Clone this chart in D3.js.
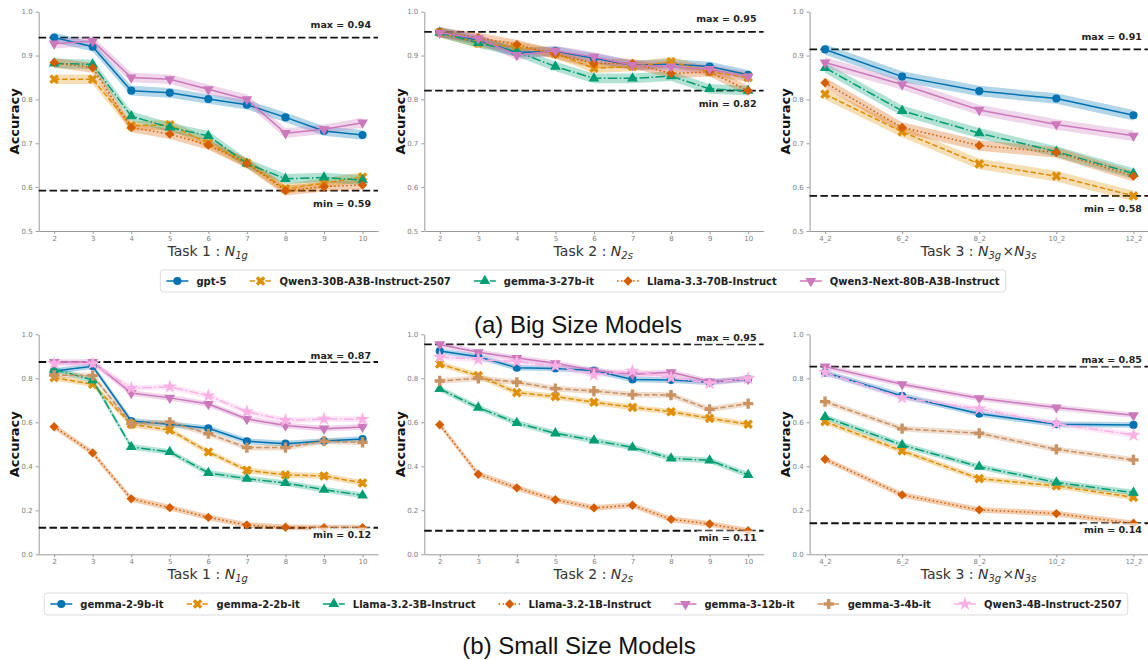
<!DOCTYPE html>
<html>
<head>
<meta charset="utf-8">
<script src="https://cdn.jsdelivr.net/npm/d3@7"></script>
<style>
  body { margin: 0; background: #fff; }
  svg { display: block; }
</style>
</head>
<body>
<div id="chart"></div>
<script>

// x categories
const xTask12 = [2, 3, 4, 5, 6, 7, 8, 9, 10];
const xTask3 = ["4_2", "6_2", "8_2", "10_2", "12_2"];

// model names (legend order)
const bigModels = ["gpt-5", "Qwen3-30B-A3B-Instruct-2507", "gemma-3-27b-it",
  "Llama-3.3-70B-Instruct", "Qwen3-Next-80B-A3B-Instruct"];
const smallModels = ["gemma-2-9b-it", "gemma-2-2b-it", "Llama-3.2-3B-Instruct",
  "Llama-3.2-1B-Instruct", "gemma-3-12b-it", "gemma-3-4b-it", "Qwen3-4B-Instruct-2507"];

// accuracies, one row per model (same order as the names above)
const bigTask1 = [
  [0.941, 0.920, 0.820, 0.815, 0.801, 0.788, 0.759, 0.728, 0.719],
  [0.846, 0.846, 0.740, 0.742, 0.700, 0.655, 0.596, 0.609, 0.623],
  [0.882, 0.880, 0.762, 0.736, 0.717, 0.654, 0.619, 0.622, 0.616],
  [0.884, 0.872, 0.736, 0.721, 0.696, 0.654, 0.592, 0.601, 0.605],
  [0.927, 0.933, 0.850, 0.846, 0.823, 0.800, 0.723, 0.732, 0.747]
];
const bigTask2 = [
  [0.954, 0.935, 0.907, 0.910, 0.894, 0.878, 0.881, 0.875, 0.856],
  [0.953, 0.928, 0.920, 0.905, 0.871, 0.875, 0.886, 0.863, 0.850],
  [0.952, 0.929, 0.909, 0.875, 0.848, 0.848, 0.853, 0.824, 0.820],
  [0.953, 0.941, 0.925, 0.903, 0.882, 0.882, 0.859, 0.863, 0.820],
  [0.952, 0.939, 0.901, 0.911, 0.897, 0.878, 0.875, 0.869, 0.852]
];
const bigTask3 = [
  [0.914, 0.852, 0.819, 0.802, 0.764],
  [0.812, 0.726, 0.653, 0.625, 0.580],
  [0.872, 0.774, 0.723, 0.681, 0.631],
  [0.838, 0.736, 0.695, 0.679, 0.625],
  [0.884, 0.834, 0.776, 0.743, 0.717]
];
const smallTask1 = [
  [0.833, 0.855, 0.606, 0.591, 0.573, 0.514, 0.503, 0.515, 0.524],
  [0.803, 0.773, 0.591, 0.565, 0.465, 0.382, 0.361, 0.356, 0.324],
  [0.841, 0.792, 0.488, 0.465, 0.370, 0.344, 0.324, 0.294, 0.268],
  [0.580, 0.461, 0.252, 0.212, 0.168, 0.133, 0.123, 0.121, 0.121],
  [0.874, 0.874, 0.733, 0.711, 0.683, 0.615, 0.585, 0.571, 0.579],
  [0.815, 0.812, 0.594, 0.600, 0.548, 0.485, 0.485, 0.514, 0.509],
  [0.867, 0.867, 0.755, 0.761, 0.721, 0.648, 0.609, 0.615, 0.614]
];
const smallTask2 = [
  [0.924, 0.898, 0.848, 0.845, 0.835, 0.795, 0.792, 0.782, 0.797],
  [0.865, 0.812, 0.735, 0.717, 0.691, 0.668, 0.648, 0.618, 0.591],
  [0.752, 0.667, 0.597, 0.550, 0.518, 0.486, 0.436, 0.427, 0.361],
  [0.589, 0.364, 0.302, 0.248, 0.211, 0.223, 0.159, 0.138, 0.107],
  [0.954, 0.918, 0.892, 0.868, 0.835, 0.818, 0.827, 0.785, 0.797],
  [0.788, 0.800, 0.782, 0.753, 0.742, 0.726, 0.724, 0.659, 0.685],
  [0.897, 0.886, 0.876, 0.856, 0.815, 0.833, 0.803, 0.777, 0.800]
];
const smallTask3 = [
  [0.826, 0.720, 0.639, 0.591, 0.588],
  [0.603, 0.470, 0.344, 0.311, 0.259],
  [0.624, 0.497, 0.398, 0.327, 0.280],
  [0.432, 0.270, 0.202, 0.185, 0.141],
  [0.853, 0.773, 0.709, 0.667, 0.632],
  [0.694, 0.571, 0.550, 0.477, 0.429],
  [0.827, 0.712, 0.661, 0.594, 0.542]
];

// y ticks
const yTicksBig = [0.5, 0.6, 0.7, 0.8, 0.9, 1.0];
const yTicksSmall = [0.0, 0.2, 0.4, 0.6, 0.8, 1.0];

// styling (seaborn colorblind palette)
const palette = ["#0173b2", "#de8f05", "#029e73", "#d55e00", "#cc78bc", "#ca9161", "#fbafe4"];
const dashes = ["", "5.5,2.4", "9.6,2.4,1.5,2.4", "1.5,2.5", "", "5.5,2.4", "9.6,2.4,1.5,2.4"];
const markers = [
  {type: d3.symbolCircle, size: 52, rot: 0},
  {type: d3.symbolCross, size: 58, rot: 45},
  {type: d3.symbolTriangle, size: 50, rot: 0},
  {type: d3.symbolSquare, size: 44, rot: 45},
  {type: d3.symbolTriangle, size: 50, rot: 180},
  {type: d3.symbolCross, size: 58, rot: 0},
  {type: d3.symbolStar, size: 62, rot: 0}
];

const width = 1148, height = 660;
const colLeft = [38.7, 424.3, 809.6];
const axW = 339.3;
const rows = [{top: 11.7, h: 219.3}, {top: 334.3, h: 220}];

const svg = d3.select("#chart").append("svg")
  .attr("width", width).attr("height", height)
  .attr("viewBox", [0, 0, width, height]);

function drawPanel(col, row, xs, series, yDomain, yTicks, ci, labelParts) {
  const x0 = colLeft[col], w = axW;
  const y0 = rows[row].top, h = rows[row].h;
  const n = xs.length;
  const g = svg.append("g");

  const x = d3.scaleLinear()
    .domain([-(n - 1) * 0.05, (n - 1) * 1.05])
    .range([x0, x0 + w]);
  const y = d3.scaleLinear().domain(yDomain).range([y0 + h, y0]);

  // axes
  const yAxis = g.append("g")
    .attr("transform", `translate(${x0},0)`)
    .call(d3.axisLeft(y).tickValues(yTicks).tickFormat(d3.format(".1f"))
      .tickSize(3).tickSizeOuter(0).tickPadding(3));
  const xAxis = g.append("g")
    .attr("transform", `translate(0,${y0 + h})`)
    .call(d3.axisBottom(x).tickValues(d3.range(n)).tickFormat(i => xs[i])
      .tickSize(3).tickSizeOuter(0).tickPadding(2));
  [yAxis, xAxis].forEach(a => {
    a.select(".domain").attr("stroke", "#9a9a9a");
    a.selectAll(".tick line").attr("stroke", "#9a9a9a");
    a.selectAll(".tick text").attr("fill", "#808080")
      .attr("font-size", "7px").attr("font-family", "DejaVu Sans");
  });

  // max / min reference lines
  const all = series.flat();
  const vMax = d3.max(all), vMin = d3.min(all);
  [vMax, vMin].forEach(v => {
    g.append("line")
      .attr("x1", x0).attr("x2", x0 + w)
      .attr("y1", y(v)).attr("y2", y(v))
      .attr("stroke", "#111").attr("stroke-width", 1.9)
      .attr("stroke-dasharray", "7.5,3.3");
  });

  // bands, lines, markers
  const area = d3.area().x((d, i) => x(i)).y0(d => y(d - ci)).y1(d => y(d + ci));
  const line = d3.line().x((d, i) => x(i)).y(d => y(d));
  series.forEach((vals, k) => {
    g.append("path").attr("d", area(vals))
      .attr("fill", palette[k]).attr("fill-opacity", 0.3);
  });
  series.forEach((vals, k) => {
    g.append("path").attr("d", line(vals))
      .attr("fill", "none").attr("stroke", palette[k])
      .attr("stroke-width", 1.5).attr("stroke-dasharray", dashes[k]);
    const m = markers[k];
    g.selectAll(null).data(vals).enter().append("path")
      .attr("d", d3.symbol().type(m.type).size(m.size)())
      .attr("transform", (d, i) => `translate(${x(i)},${y(d)}) rotate(${m.rot})`)
      .attr("fill", palette[k]);
  });

  // max / min text with a translucent white box
  [["max", vMax, 0.03], ["min", vMin, -0.03]].forEach(([lab, v, off]) => {
    const t = g.append("text")
      .attr("x", x0 + w - 7).attr("y", y(v + off))
      .attr("dy", "0.35em").attr("text-anchor", "end")
      .attr("font-family", "DejaVu Sans").attr("font-weight", "bold")
      .attr("font-size", "9.5px").attr("fill", "#222")
      .text(`${lab} = ${v.toFixed(2)}`);
    const b = t.node().getBBox();
    g.insert("rect", () => t.node())
      .attr("x", b.x - 2).attr("y", b.y - 1)
      .attr("width", b.width + 4).attr("height", b.height + 2)
      .attr("fill", "#fff").attr("fill-opacity", 0.7);
  });

  // axis titles
  g.append("text")
    .attr("transform", `translate(${x0 - 24},${y0 + h / 2}) rotate(-90)`)
    .attr("text-anchor", "middle").attr("dy", "0.35em")
    .attr("font-family", "DejaVu Sans").attr("font-weight", "bold")
    .attr("font-size", "13px").attr("fill", "#111")
    .text("Accuracy");

  const xl = g.append("text")
    .attr("x", x0 + w / 2).attr("y", y0 + h + 25)
    .attr("text-anchor", "middle")
    .attr("font-family", "DejaVu Sans").attr("font-size", "14px").attr("fill", "#333");
  labelParts.forEach(p => {
    const ts = xl.append("tspan").text(p.t);
    if (p.it) ts.attr("font-style", "italic");
    if (p.sub) ts.attr("font-size", "10px").attr("dy", 3);
    if (p.up) ts.attr("dy", -3);
  });
}

function taskLabel(num, subs) {
  const parts = [{t: `Task ${num} : `}];
  subs.forEach((s, i) => {
    if (i > 0) parts.push({t: "×"});
    parts.push({t: "N", it: true});
    parts.push({t: s, sub: true, it: true});
    parts.push({t: "\u200a", up: true});
  });
  return parts;
}

drawPanel(0, 0, xTask12, bigTask1, [0.5, 1.0], yTicksBig, 0.011, taskLabel(1, ["1g"]));
drawPanel(1, 0, xTask12, bigTask2, [0.5, 1.0], yTicksBig, 0.011, taskLabel(2, ["2s"]));
drawPanel(2, 0, xTask3, bigTask3, [0.5, 1.0], yTicksBig, 0.012, taskLabel(3, ["3g", "3s"]));
drawPanel(0, 1, xTask12, smallTask1, [0, 1.0], yTicksSmall, 0.013, taskLabel(1, ["1g"]));
drawPanel(1, 1, xTask12, smallTask2, [0, 1.0], yTicksSmall, 0.013, taskLabel(2, ["2s"]));
drawPanel(2, 1, xTask3, smallTask3, [0, 1.0], yTicksSmall, 0.013, taskLabel(3, ["3g", "3s"]));

// legends
function drawLegend(names, cx, cy) {
  const g = svg.append("g");
  const handle = 22, pad = 8, gap = 23, boxPad = 6;
  const items = names.map((name, k) => {
    const t = g.append("text").attr("y", cy).attr("dy", "0.35em")
      .attr("font-family", "DejaVu Sans").attr("font-weight", "bold")
      .attr("font-size", "10px").attr("fill", "#222").text(name);
    return {k, t, w: t.node().getComputedTextLength()};
  });
  const total = d3.sum(items, d => d.w) + items.length * (handle + pad) + (items.length - 1) * gap;
  let xPos = cx - total / 2;
  g.insert("rect", ":first-child")
    .attr("x", xPos - boxPad).attr("y", cy - 11)
    .attr("width", total + 2 * boxPad).attr("height", 22)
    .attr("rx", 3).attr("fill", "#fff")
    .attr("stroke", "#dcdcdc").attr("stroke-width", 1);
  items.forEach(it => {
    const k = it.k, m = markers[k];
    g.append("line").attr("x1", xPos).attr("x2", xPos + handle)
      .attr("y1", cy).attr("y2", cy)
      .attr("stroke", palette[k]).attr("stroke-width", 1.5)
      .attr("stroke-dasharray", dashes[k]);
    g.append("path")
      .attr("d", d3.symbol().type(m.type).size(m.size)())
      .attr("transform", `translate(${xPos + handle / 2},${cy}) rotate(${m.rot})`)
      .attr("fill", palette[k]);
    it.t.attr("x", xPos + handle + pad);
    xPos += handle + pad + it.w + gap;
  });
}

drawLegend(bigModels, 583, 281);
drawLegend(smallModels, 586, 604);

// figure captions
svg.append("text").attr("x", 578).attr("y", 333).attr("text-anchor", "middle")
  .attr("font-family", "Liberation Sans, Arial, sans-serif").attr("font-size", "24px")
  .attr("fill", "#111").text("(a) Big Size Models");
svg.append("text").attr("x", 579).attr("y", 654).attr("text-anchor", "middle")
  .attr("font-family", "Liberation Sans, Arial, sans-serif").attr("font-size", "24px")
  .attr("fill", "#111").text("(b) Small Size Models");

</script>
</body>
</html>
